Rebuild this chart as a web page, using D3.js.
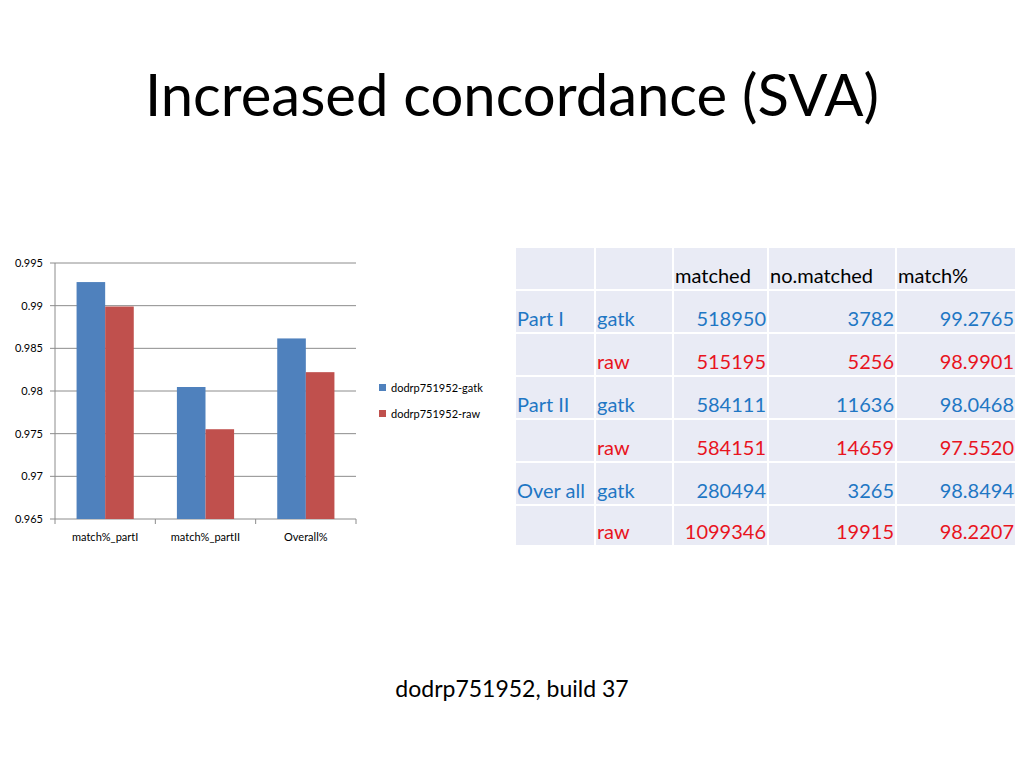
<!DOCTYPE html>
<html><head><meta charset="utf-8">
<script src="https://cdn.jsdelivr.net/npm/d3@7"></script>
<style>body{margin:0;background:#fff;font-family:Lato,"Open Sans",sans-serif}</style>
</head><body><div id="viz"></div>
<script>
var categories = ["match%_partI", "match%_partII", "Overall%"];
var seriesNames = ["dodrp751952-gatk", "dodrp751952-raw"];
var gatkValues = [0.992765, 0.980468, 0.98616];
var rawValues = [0.989901, 0.975520, 0.982207];
var yTicks = [0.965, 0.97, 0.975, 0.98, 0.985, 0.99, 0.995];
var colors = ["#4f81bd", "#c0504d"];

var tableHeader = ["", "", "matched", "no.matched", "match%"];
var tableRows = [
  ["Part I", "gatk", "518950", "3782", "99.2765"],
  ["", "raw", "515195", "5256", "98.9901"],
  ["Part II", "gatk", "584111", "11636", "98.0468"],
  ["", "raw", "584151", "14659", "97.5520"],
  ["Over all", "gatk", "280494", "3265", "98.8494"],
  ["", "raw", "1099346", "19915", "98.2207"]
];

var svg = d3.select("#viz").append("svg").attr("width", 1024).attr("height", 768);

svg.append("text").attr("x", 512).attr("y", 116).attr("text-anchor", "middle")
  .attr("font-size", 58).attr("fill", "#000").text("Increased concordance (SVA)");
svg.append("text").attr("x", 512).attr("y", 697).attr("text-anchor", "middle")
  .attr("font-size", 23).attr("fill", "#000").text("dodrp751952, build 37");

// chart
var pLeft = 55, pRight = 356, pTop = 263, pBottom = 519;
var x = d3.scaleBand().domain(categories).range([pLeft, pRight]);
var y = d3.scaleLinear().domain([0.965, 0.995]).range([pBottom, pTop]);
var g = svg.append("g");

g.selectAll(".grid").data(yTicks).enter().append("line")
  .attr("x1", pLeft).attr("x2", pRight).attr("y1", function(d){return y(d);}).attr("y2", function(d){return y(d);})
  .attr("stroke", "#8c8c8c").attr("stroke-width", 1);
g.selectAll(".yl").data(yTicks).enter().append("text")
  .attr("x", pLeft - 12).attr("y", function(d){return y(d) + 4;}).attr("text-anchor", "end")
  .attr("font-size", 11).text(function(d){return String(+d.toFixed(3));});
g.selectAll(".yt").data(yTicks).enter().append("line")
  .attr("x1", pLeft - 5).attr("x2", pLeft).attr("y1", function(d){return y(d);}).attr("y2", function(d){return y(d);})
  .attr("stroke", "#8c8c8c");
g.append("line").attr("x1", pLeft).attr("x2", pLeft).attr("y1", pTop).attr("y2", pBottom).attr("stroke", "#8c8c8c");
[0, 1, 2, 3].forEach(function(k){
  var p = pLeft + k * x.bandwidth();
  g.append("line").attr("x1", p).attr("x2", p).attr("y1", pBottom).attr("y2", pBottom + 5).attr("stroke", "#8c8c8c");
});
g.selectAll(".xl").data(categories).enter().append("text")
  .attr("x", function(d){return x(d) + x.bandwidth() / 2;}).attr("y", pBottom + 22)
  .attr("text-anchor", "middle").attr("font-size", 11).text(function(d){return d;});

var bw = x.bandwidth() * 0.285;
[gatkValues, rawValues].forEach(function(vals, si){
  g.selectAll(".bar" + si).data(vals).enter().append("rect")
    .attr("x", function(d, i){return x(categories[i]) + x.bandwidth() / 2 - bw + si * bw;})
    .attr("width", bw)
    .attr("y", function(d){return y(d);})
    .attr("height", function(d){return pBottom - y(d);})
    .attr("fill", colors[si]);
});
seriesNames.forEach(function(n, i){
  g.append("rect").attr("x", 379).attr("y", 384 + i * 26).attr("width", 7).attr("height", 7).attr("fill", colors[i]);
  g.append("text").attr("x", 391).attr("y", 392 + i * 26).attr("font-size", 11).text(n);
});

// table
var colX = [516, 596, 674, 769, 897, 1017];
var rowY = [248, 291, 334, 377, 420, 463, 506, 547];
var tg = svg.append("g");
var all = [tableHeader].concat(tableRows);
all.forEach(function(row, r){
  row.forEach(function(cell, c){
    tg.append("rect").attr("x", colX[c]).attr("y", rowY[r])
      .attr("width", colX[c + 1] - colX[c] - 2).attr("height", rowY[r + 1] - rowY[r] - 2)
      .attr("fill", "#e9ebf5");
    if (!cell) return;
    var col = r === 0 ? "#000" : (row[1] === "raw" && c > 0 ? "#e8141e" : "#1f77c4");
    var num = r > 0 && c >= 2;
    tg.append("text")
      .attr("x", num ? colX[c + 1] - 3 : colX[c] + 1)
      .attr("y", rowY[r + 1] - 8)
      .attr("text-anchor", num ? "end" : "start")
      .attr("font-size", 20).attr("fill", col).text(cell);
  });
});
</script></body></html>
